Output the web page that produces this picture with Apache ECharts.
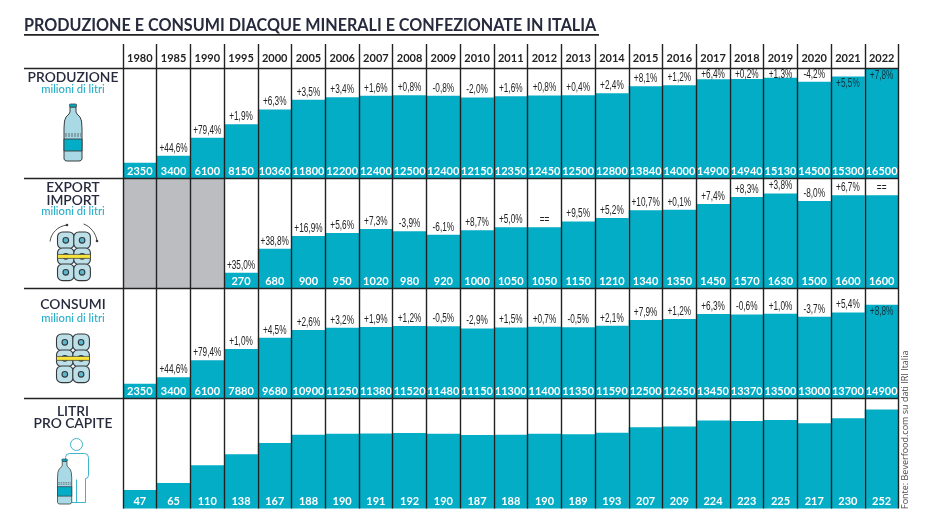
<!DOCTYPE html>
<html>
<head>
<meta charset="utf-8">
<title>Produzione e consumi di acque minerali</title>
<script src="https://cdn.jsdelivr.net/npm/echarts@6/dist/echarts.min.js"></script>
<style>
  html, body { margin: 0; padding: 0; background: #fff; }
  #chart { width: 926px; height: 520px; }
</style>
</head>
<body>
<div id="chart"></div>
<script>
var years = ['1980','1985','1990','1995','2000','2005','2006','2007','2008','2009','2010','2011','2012','2013','2014','2015','2016','2017','2018','2019','2020','2021','2022'];

var produzione = [2350,3400,6100,8150,10360,11800,12200,12400,12500,12400,12150,12350,12450,12500,12800,13840,14000,14900,14940,15130,14500,15300,16500];
var produzioneVar = ['','+44,6%','+79,4%','+1,9%','+6,3%','+3,5%','+3,4%','+1,6%','+0,8%','-0,8%','-2,0%','+1,6%','+0,8%','+0,4%','+2,4%','+8,1%','+1,2%','+6,4%','+0,2%','+1,3%','-4,2%','+5,5%','+7,8%'];

var exportImport = [null,null,null,270,680,900,950,1020,980,920,1000,1050,1050,1150,1210,1340,1350,1450,1570,1630,1500,1600,1600];
var exportVar = ['','','','+35,0%','+38,8%','+16,9%','+5,6%','+7,3%','-3,9%','-6,1%','+8,7%','+5,0%','==','+9,5%','+5,2%','+10,7%','+0,1%','+7,4%','+8,3%','+3,8%','-8,0%','+6,7%','=='];

var consumi = [2350,3400,6100,7880,9680,10900,11250,11380,11520,11480,11150,11300,11400,11350,11590,12500,12650,13450,13370,13500,13000,13700,14900];
var consumiVar = ['','+44,6%','+79,4%','+1,0%','+4,5%','+2,6%','+3,2%','+1,9%','+1,2%','-0,5%','-2,9%','+1,5%','+0,7%','-0,5%','+2,1%','+7,9%','+1,2%','+6,3%','-0,6%','+1,0%','-3,7%','+5,4%','+8,8%'];

var proCapite = [47,65,110,138,167,188,190,191,192,190,187,188,190,189,193,207,209,224,223,225,217,230,252];

var TEAL = '#04adc6';
var INK = '#222222';
var NAVY = '#262a3c';
var GREY = '#bcbdc0';
var OUTLINE = '#3a3d40';

var chart = echarts.init(document.getElementById('chart'));

// rows: top of the row, axis max, values, variations, which variations sit inside the bar
var rows = [
  { top: 68.5,  max: 16500, values: produzione,   vars: produzioneVar, inside: [21, 22] },
  { top: 178.5, max: 1885,  values: exportImport, vars: exportVar,     inside: [] },
  { top: 288.5, max: 17500, values: consumi,      vars: consumiVar,    inside: [22] },
  { top: 398.5, max: 280,   values: proCapite,    vars: null,          inside: [] }
];

var grids = [], xAxes = [], yAxes = [], series = [];

rows.forEach(function (row, i) {
  grids.push({ left: 123, top: row.top, width: 775.5, height: 110 });
  xAxes.push({
    gridIndex: i,
    type: 'category',
    data: years,
    z: 6,
    axisLine: { show: false },
    axisTick: { show: false },
    axisLabel: { show: false },
    splitLine: { show: true, interval: 0, lineStyle: { color: INK, width: 1.4 } }
  });
  yAxes.push({ gridIndex: i, type: 'value', min: 0, max: row.max, show: false, splitLine: { show: false } });

  // grey band where there is no data
  series.push({
    type: 'bar', xAxisIndex: i, yAxisIndex: i, barWidth: '100%', barGap: '-100%', silent: true,
    itemStyle: { color: GREY },
    data: row.values.map(function (v) { return v === null ? row.max : null; })
  });

  // the bar, with its value at the foot
  series.push({
    type: 'bar', xAxisIndex: i, yAxisIndex: i, barWidth: '100%', barGap: '-100%', silent: true,
    itemStyle: { color: TEAL },
    label: {
      show: true, position: 'insideBottom', distance: 2,
      fontFamily: 'Lato', fontWeight: 700, fontSize: 11, color: '#fff'
    },
    data: row.values
  });

  // variation next to the top of the bar: custom series because the text is squeezed
  if (row.vars) {
    series.push({
      type: 'custom', xAxisIndex: i, yAxisIndex: i, silent: true, z: 4, clip: false,
      encode: { x: 0, y: 1 },
      data: row.values.map(function (v, k) { return [k, v]; }),
      renderItem: function (params, api) {
        var k = params.dataIndex;
        var text = row.vars[k];
        if (!text) return;
        var pt = api.coord([k, api.value(1)]);
        var inside = row.inside.indexOf(k) >= 0;
        var y = inside ? pt[1] + 7 : Math.max(pt[1] - 7.5, row.top + 6);
        return {
          type: 'text', x: pt[0], y: y, scaleX: 0.66,
          style: {
            text: text, fill: inside ? '#10323c' : INK,
            align: 'center', verticalAlign: 'middle',
            font: '12.5px "Liberation Sans"'
          }
        };
      }
    });
  }
});

// header strip with the years
grids.push({ left: 123, top: 44, width: 775.5, height: 24.5 });
xAxes.push({
  gridIndex: 4,
  type: 'category',
  data: years,
  axisLine: { show: false },
  axisTick: { show: false },
  axisLabel: {
    inside: true, margin: 5, interval: 0,
    fontFamily: 'Lato', fontWeight: 700, fontSize: 11, color: INK
  },
  splitLine: { show: true, interval: 0, lineStyle: { color: INK, width: 1.4 } }
});
yAxes.push({ gridIndex: 4, type: 'value', min: 0, max: 1, show: false, splitLine: { show: false } });

function txt(x, y, text, size, color, weight) {
  return {
    type: 'text', x: x, y: y, z: 20,
    style: {
      text: text, fill: color, align: 'center', verticalAlign: 'middle',
      font: (weight || 600) + ' ' + size + 'px Lato'
    }
  };
}

function hline(y) {
  return {
    type: 'line', z: 15,
    shape: { x1: 24, y1: y, x2: 899, y2: y },
    style: { stroke: INK, lineWidth: 1.4 }
  };
}

function bottle(x, y, s) {
  return {
    type: 'group', x: x, y: y, scaleX: s, scaleY: s, z: 20,
    children: [
      { type: 'polygon', shape: { points: [[6,3],[6,8],[5,10],[2,13],[0.5,17],[0,24],[0,55],[1,56.5],[3,57],[15,57],[17,56.5],[18,55],[18,24],[17.5,17],[16,13],[13,10],[12,8],[12,3]] },
        style: { fill: '#a9d9e4', stroke: OUTLINE, lineWidth: 1 } },
      { type: 'rect', shape: { x: 5.5, y: 0, width: 7, height: 3, r: 1 }, style: { fill: TEAL, stroke: OUTLINE, lineWidth: 0.8 } },
      { type: 'rect', shape: { x: 0, y: 35, width: 18, height: 12 }, style: { fill: TEAL, stroke: OUTLINE, lineWidth: 0.9 } },
      { type: 'line', shape: { x1: 1, y1: 30, x2: 17, y2: 30 }, style: { stroke: OUTLINE, lineWidth: 0.7, lineDash: [2, 1] } },
      { type: 'line', shape: { x1: 1, y1: 32, x2: 17, y2: 32 }, style: { stroke: OUTLINE, lineWidth: 0.7, lineDash: [2, 1] } }
    ]
  };
}

function pack(x, y) {
  var kids = [];
  [0, 16.3].forEach(function (cx) {
    [0, 16, 32].forEach(function (cy) {
      kids.push({ type: 'rect', shape: { x: cx, y: cy, width: 16.6, height: 16.6, r: 5 }, style: { fill: '#bcdfe8', stroke: '#33383b', lineWidth: 1.1 } });
      kids.push({ type: 'circle', shape: { cx: cx + 8.3, cy: cy + 8.3, r: 2.8 }, style: { fill: '#5db5ca', stroke: '#33383b', lineWidth: 1.1 } });
    });
  });
  kids.push({ type: 'rect', shape: { x: 0, y: 22.4, width: 33, height: 4 }, style: { fill: '#f7e33c', stroke: '#33383b', lineWidth: 0.7 } });
  return { type: 'group', x: x, y: y, z: 20, children: kids };
}

function arrow(curve, tip) {
  return {
    type: 'group', z: 20, children: [
      { type: 'bezierCurve', shape: curve, style: { fill: 'none', stroke: OUTLINE, lineWidth: 0.9 } },
      { type: 'circle', shape: { cx: tip[0], cy: tip[1], r: 1.3 }, style: { fill: OUTLINE } }
    ]
  };
}

function person(x, y) {
  var line = { fill: 'none', stroke: '#3fb4cc', lineWidth: 1 };
  return {
    type: 'group', x: x, y: y, z: 19, children: [
      { type: 'circle', shape: { cx: 11, cy: 6, r: 6 }, style: line },
      { type: 'polyline', shape: { points: [[0,32],[0,19],[1,16],[4,15],[19,15],[22,16],[23,19],[23,37],[22,39.5],[20,40],[20,64],[2,64]] }, style: line },
      { type: 'line', shape: { x1: 11, y1: 41, x2: 11, y2: 64 }, style: line }
    ]
  };
}

var option = {
  animation: false,
  backgroundColor: '#fff',
  grid: grids,
  xAxis: xAxes,
  yAxis: yAxes,
  series: series,
  graphic: [
    { type: 'text', x: 24, y: 26, z: 20, style: { text: 'PRODUZIONE E CONSUMI DIACQUE MINERALI E CONFEZIONATE IN ITALIA', fill: NAVY, align: 'left', verticalAlign: 'middle', font: '700 16.15px Lato' } },
    { type: 'rect', z: 20, shape: { x: 24, y: 34, width: 575, height: 1.8 }, style: { fill: INK } },
    hline(68.5), hline(178.5), hline(288.5), hline(398.5),
    txt(73, 78, 'PRODUZIONE', 13.8, NAVY),
    txt(73, 89.5, 'milioni di litri', 11.2, '#27aecb', 500),
    bottle(64, 104, 1),
    txt(73, 188, 'EXPORT', 13.8, NAVY),
    txt(73, 201, 'IMPORT', 13.8, NAVY),
    txt(73, 211.5, 'milioni di litri', 11.2, '#27aecb', 500),
    arrow({ x1: 50, y1: 241.5, cpx1: 51, cpy1: 233, cpx2: 58, cpy2: 226, x2: 67, y2: 225 }, [67, 225]),
    arrow({ x1: 83.5, y1: 224, cpx1: 90, cpy1: 226, cpx2: 96, cpy2: 233, x2: 97, y2: 241 }, [97, 241]),
    pack(57.5, 232),
    txt(73, 304.5, 'CONSUMI', 13.8, NAVY),
    txt(73, 318, 'milioni di litri', 11.2, '#27aecb', 500),
    pack(56.5, 334),
    txt(73, 412, 'LITRI', 13.8, NAVY),
    txt(73, 424, 'PRO CAPITE', 13.8, NAVY),
    person(65.5, 438.5),
    bottle(57.5, 459, 0.79),
    { type: 'text', x: 905, y: 509, rotation: Math.PI / 2, z: 20, style: { text: 'Fonte: Beverfood.com su dati IRI Italia', fill: '#4a4a4a', align: 'left', verticalAlign: 'middle', font: '9px "Open Sans"' } }
  ]
};

chart.setOption(option);
</script>
</body>
</html>
